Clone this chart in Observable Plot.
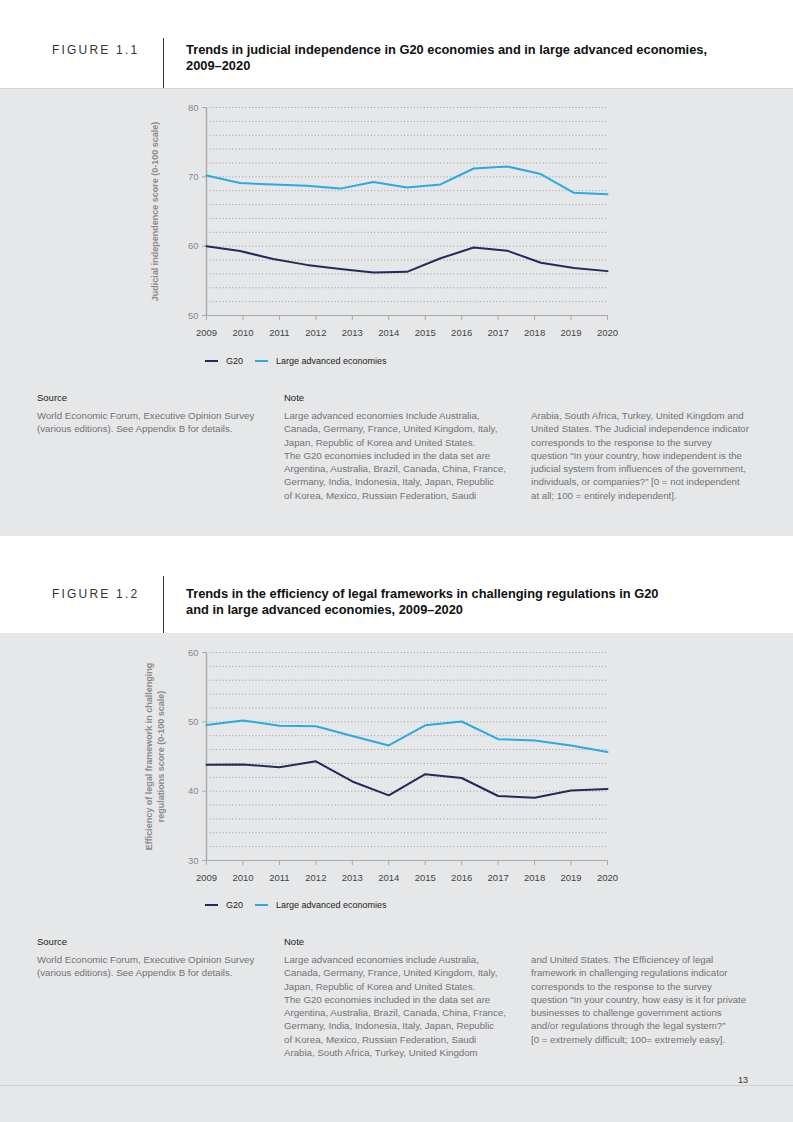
<!DOCTYPE html>
<html>
<head>
<meta charset="utf-8">
<script src="https://cdn.jsdelivr.net/npm/d3@7"></script>
<script src="https://cdn.jsdelivr.net/npm/@observablehq/plot@0.6"></script>
<style>
  html, body { margin: 0; padding: 0; }
  body { width: 793px; height: 1122px; position: relative; background: #fff; font-family: "Liberation Sans", Arial, sans-serif; overflow: hidden; }
  .abs { position: absolute; }
  .panel { position: absolute; left: 0; width: 793px; background: #e6e7e8; }
  .fignum { position: absolute; left: 52px; font-size: 12px; letter-spacing: 2.2px; color: #333; line-height: 16px; }
  .vline { position: absolute; left: 163px; width: 1px; background: #333; }
  .title { position: absolute; left: 186px; font-size: 12.85px; font-weight: bold; color: #111; line-height: 16px; }
  .legend { position: absolute; left: 205px; font-size: 9px; color: #222; display: flex; align-items: center; line-height: 12px; }
  .legend .sw { display: inline-block; width: 13px; height: 2px; margin-right: 8px; }
  .legend .item { display: flex; align-items: center; margin-right: 12px; }
  .head { position: absolute; font-size: 9.5px; color: #222; line-height: 12px; }
  .body { position: absolute; font-size: 9.7px; color: #737373; line-height: 13.3px; white-space: nowrap; }
</style>
</head>
<body>
<script>
// ---------- data ----------
const seriesNames = ["G20", "Large advanced economies"];
const seriesColors = ["#232a5c", "#2aaae2"];
const yearTicks = [2009, 2010, 2011, 2012, 2013, 2014, 2015, 2016, 2017, 2018, 2019, 2020];

// Figure 1.1: 13 points as drawn (positions, in year units)
const fig1X = [2009, 2009.92, 2010.83, 2011.75, 2012.67, 2013.58, 2014.5, 2015.42, 2016.33, 2017.25, 2018.17, 2019.08, 2020];
const fig1G20 = [60.0, 59.3, 58.15, 57.3, 56.7, 56.2, 56.3, 58.25, 59.8, 59.35, 57.6, 56.85, 56.4];
const fig1Adv = [70.2, 69.1, 68.9, 68.7, 68.3, 69.25, 68.45, 68.9, 71.2, 71.5, 70.4, 67.7, 67.5];

// Figure 1.2
const fig2X = [2009, 2010, 2011, 2012, 2013, 2014, 2015, 2016, 2017, 2018, 2019, 2020];
const fig2G20 = [43.8, 43.85, 43.45, 44.3, 41.4, 39.4, 42.45, 41.9, 39.3, 39.05, 40.1, 40.3];
const fig2Adv = [49.55, 50.2, 49.45, 49.35, 47.95, 46.6, 49.5, 50.05, 47.5, 47.3, 46.6, 45.65];

const fig1YLabel = "Judicial independence score (0-100 scale)";
const fig2YLabel = "Efficiency of legal framework in challenging\nregulations score (0-100 scale)";

function makeChart(xs, g20, adv, yDomain, yLabel) {
  const rows = [
    ...xs.map((x, i) => ({x, y: g20[i], s: seriesNames[0]})),
    ...xs.map((x, i) => ({x, y: adv[i], s: seriesNames[1]}))
  ];
  const gridVals = d3.range(yDomain[0] + 2, yDomain[1] + 0.1, 2);
  const labelVals = d3.range(yDomain[0], yDomain[1] + 0.1, 10);
  return Plot.plot({
    width: 480,
    height: 250,
    marginLeft: 66,
    marginRight: 13,
    marginTop: 12,
    marginBottom: 30,
    style: {background: "transparent", fontFamily: "Liberation Sans, Arial, sans-serif", fontSize: "9.5px", color: "#555", overflow: "visible"},
    x: {domain: [2009, 2020]},
    y: {domain: yDomain},
    color: {domain: seriesNames, range: seriesColors},
    marks: [
      Plot.ruleY(gridVals, {stroke: "#9a9a9a", strokeWidth: 1, strokeDasharray: "1,2.3"}),
      Plot.ruleY([yDomain[0]], {stroke: "#aaa", strokeWidth: 1.2}),
      Plot.ruleX([2009], {stroke: "#aaa", strokeWidth: 1.5}),
      Plot.axisX({ticks: yearTicks, tickFormat: d => String(d), tickSize: 5, tickPadding: 9, stroke: "#aaa", fill: "#444", label: null}),
      Plot.axisY({ticks: labelVals, tickSize: 4, tickPadding: 4, stroke: "#aaa", fill: "#888", label: null}),
      Plot.text([yLabel], {frameAnchor: "left", textAnchor: "middle", rotate: -90, dx: -52, fontWeight: "bold", fill: "#8a8a8a", fontSize: 9, lineHeight: 1.3}),
      Plot.line(rows, {x: "x", y: "y", z: "s", stroke: "s", strokeWidth: 2})
    ]
  });
}

function place(el, left, top) {
  el.style.position = "absolute";
  el.style.left = left + "px";
  el.style.top = top + "px";
  document.body.appendChild(el);
}

function legend(top) {
  const d = document.createElement("div");
  d.className = "legend";
  d.style.top = top + "px";
  seriesNames.forEach((n, i) => {
    const it = document.createElement("span");
    it.className = "item";
    const sw = document.createElement("span");
    sw.className = "sw";
    sw.style.background = seriesColors[i];
    it.appendChild(sw);
    it.appendChild(document.createTextNode(n));
    d.appendChild(it);
  });
  document.body.appendChild(d);
}

function div(cls, left, top, html, extra) {
  const d = document.createElement("div");
  d.className = cls;
  d.style.left = left + "px";
  d.style.top = top + "px";
  d.innerHTML = html;
  if (extra) Object.assign(d.style, extra);
  document.body.appendChild(d);
  return d;
}

// panels
div("panel", 0, 88, "", {height: "447px", borderTop: "1px solid #d6d7d8"});
div("panel", 0, 633, "", {height: "489px"});
div("abs", 0, 1085, "", {width: "793px", height: "1px", background: "#cfd0d1"});
div("abs", 730, 1075, "13", {fontSize: "9px", color: "#333", width: "18px", textAlign: "right"});

// Figure 1.1 header
div("fignum", 0, 42, "FIGURE 1.1", {left: "52px"});
div("vline", 163, 38, "", {height: "50px"});
div("title", 186, 42, "Trends in judicial independence in G20 economies and in large advanced economies,<br>2009–2020");

// Figure 1.2 header
div("fignum", 0, 586, "FIGURE 1.2", {left: "52px"});
div("vline", 163, 576, "", {height: "57px"});
div("title", 186, 586, "Trends in the efficiency of legal frameworks in challenging regulations in G20<br>and in large advanced economies, 2009–2020");

// charts
place(makeChart(fig1X, fig1G20, fig1Adv, [50, 80], fig1YLabel), 140, 95);
place(makeChart(fig2X, fig2G20, fig2Adv, [30, 60], fig2YLabel), 140, 640);

legend(355);
legend(899);

// Source / note 1
div("head", 37, 392, "Source");
div("body", 37, 409, "World Economic Forum, Executive Opinion Survey<br>(various editions). See Appendix B for details.");
div("head", 284, 392, "Note");
div("body", 284, 409, "Large advanced economies Include Australia,<br>Canada, Germany, France, United Kingdom, Italy,<br>Japan, Republic of Korea and United States.<br>The G20 economies included in the data set are<br>Argentina, Australia, Brazil, Canada, China, France,<br>Germany, India, Indonesia, Italy, Japan, Republic<br>of Korea, Mexico, Russian Federation, Saudi");
div("body", 531, 409, "Arabia, South Africa, Turkey, United Kingdom and<br>United States. The Judicial independence indicator<br>corresponds to the response to the survey<br>question “In your country, how independent is the<br>judicial system from influences of the government,<br>individuals, or companies?” [0 = not independent<br>at all; 100 = entirely independent].");

// Source / note 2
div("head", 37, 936, "Source");
div("body", 37, 953, "World Economic Forum, Executive Opinion Survey<br>(various editions). See Appendix B for details.");
div("head", 284, 936, "Note");
div("body", 284, 953, "Large advanced economies include Australia,<br>Canada, Germany, France, United Kingdom, Italy,<br>Japan, Republic of Korea and United States.<br>The G20 economies included in the data set are<br>Argentina, Australia, Brazil, Canada, China, France,<br>Germany, India, Indonesia, Italy, Japan, Republic<br>of Korea, Mexico, Russian Federation, Saudi<br>Arabia, South Africa, Turkey, United Kingdom");
div("body", 531, 953, "and United States. The Efficiencey of legal<br>framework in challenging regulations indicator<br>corresponds to the response to the survey<br>question “In your country, how easy is it for private<br>businesses to challenge government actions<br>and/or regulations through the legal system?”<br>[0 = extremely difficult; 100= extremely easy].");
</script>
</body>
</html>
